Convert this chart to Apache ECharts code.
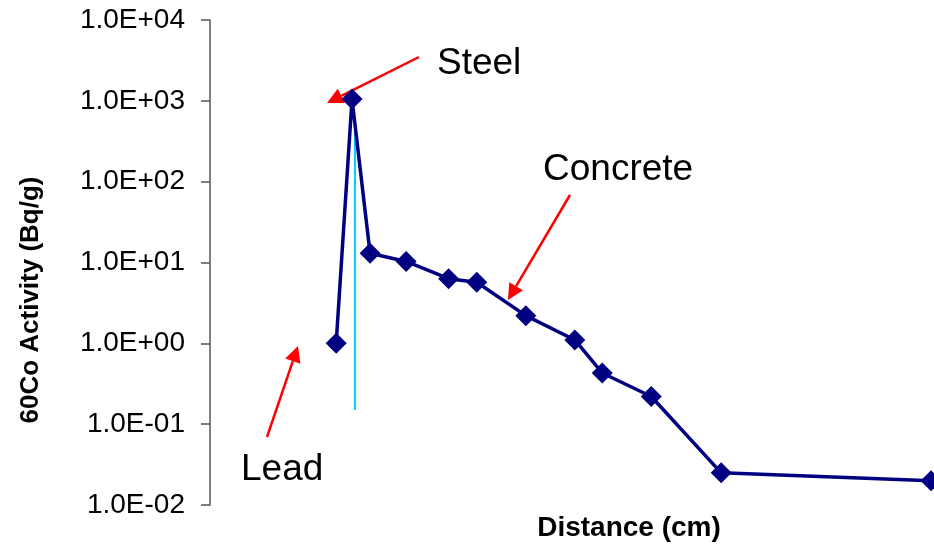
<!DOCTYPE html>
<html>
<head>
<meta charset="utf-8">
<script src="https://cdn.jsdelivr.net/npm/echarts@6/dist/echarts.min.js"></script>
<style>html,body{margin:0;padding:0;background:#fff;}#c{width:934px;height:546px;}</style>
</head>
<body>
<div id="c"></div>
<script>
// Distance (cm) (x axis has no labels)
const distance = [17.5, 19.7, 22.2, 27.2, 33.1, 37.0, 43.8, 50.6, 54.4, 61.2, 70.9, 100];
// 60Co activity (Bq/g)
const activity = [1.0, 1050, 13, 10.3, 6.3, 5.7, 2.2, 1.1, 0.43, 0.22, 0.025, 0.020];
// light blue interface line
const interfaceX = [20.1, 20.1];
const interfaceY = [500, 0.15];
const yTicks = [0.01, 0.1, 1, 10, 100, 1000, 10000];
const labels = [
  { text: 'Steel', x: 437, y: 66 },
  { text: 'Concrete', x: 543, y: 172 },
  { text: 'Lead', x: 241, y: 472 }
];
const arrows = [
  { from: [419, 57], to: [327, 103] },
  { from: [570, 195], to: [508, 300] },
  { from: [267, 437], to: [298, 346] }
];

function fmt(v) {
  const e = Math.round(Math.log10(v));
  const s = e < 0 ? '-' : '+';
  const a = Math.abs(e);
  return '1.0E' + s + (a < 10 ? '0' : '') + a;
}

const graphics = [];
labels.forEach(l => graphics.push({
  type: 'text', left: l.x, top: l.y - 21,
  style: { text: l.text, font: '37px "Liberation Sans", Arial, sans-serif', fill: '#000' }
}));
arrows.forEach(a => {
  const dx = a.to[0] - a.from[0], dy = a.to[1] - a.from[1];
  const len = Math.hypot(dx, dy), ux = dx / len, uy = dy / len;
  const hl = 16, hw = 8;
  const bx = a.to[0] - ux * hl, by = a.to[1] - uy * hl;
  graphics.push({ type: 'line', shape: { x1: a.from[0], y1: a.from[1], x2: bx, y2: by }, style: { stroke: '#ff0000', lineWidth: 2.5 } });
  graphics.push({ type: 'polygon', shape: { points: [a.to, [bx - uy * hw, by + ux * hw], [bx + uy * hw, by - ux * hw]] }, style: { fill: '#ff0000' } });
});
graphics.push({
  type: 'text', x: 31, y: 300, rotation: Math.PI / 2,
  style: { text: '60Co Activity (Bq/g)', font: 'bold 26px "Liberation Sans", Arial, sans-serif', fill: '#000', textAlign: 'center', textVerticalAlign: 'middle' }
});
graphics.push({
  type: 'text', x: 629, y: 528,
  style: { text: 'Distance (cm)', font: 'bold 28px "Liberation Sans", Arial, sans-serif', fill: '#000', textAlign: 'center', textVerticalAlign: 'middle' }
});

const chart = echarts.init(document.getElementById('c'), null, { renderer: 'canvas' });
chart.setOption({
  animation: false,
  backgroundColor: '#fff',
  grid: { left: 210, right: 3, top: 20, bottom: 41, containLabel: false },
  xAxis: { type: 'value', min: 0, max: 100, show: false },
  yAxis: {
    type: 'log', logBase: 10, min: 0.01, max: 10000,
    axisLine: { show: true, lineStyle: { color: '#555', width: 1.5 } },
    axisTick: { show: true, inside: false, length: 9, lineStyle: { color: '#555', width: 1.5 } },
    splitLine: { show: false },
    axisLabel: { formatter: v => fmt(v), margin: 25, color: '#000', fontSize: 28, fontFamily: '"Liberation Sans", Arial, sans-serif' }
  },
  series: [
    {
      type: 'line', z: 2,
      data: interfaceX.map((x, i) => [x, interfaceY[i]]),
      symbol: 'none', lineStyle: { color: '#00CCFF', width: 2 }
    },
    {
      type: 'line', z: 3, clip: false,
      data: distance.map((x, i) => [x, activity[i]]),
      symbol: 'diamond', symbolSize: 21,
      itemStyle: { color: '#000080' },
      lineStyle: { color: '#000080', width: 3.5 }
    }
  ],
  graphic: graphics
});
</script>
</body>
</html>
